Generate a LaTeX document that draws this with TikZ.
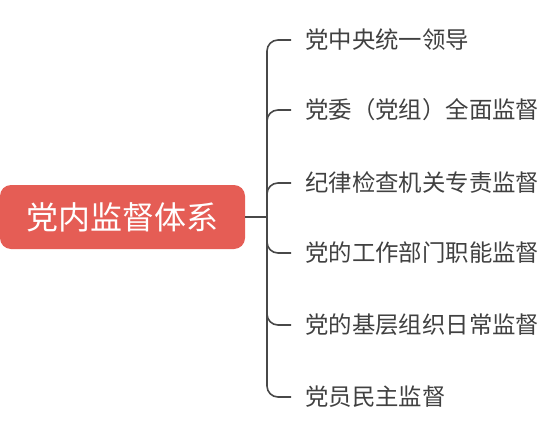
\documentclass[tikz,border=0pt]{standalone}
\usepackage{fontspec}
\setmainfont{Noto Sans CJK SC}
\usetikzlibrary{positioning}
\definecolor{rootred}{RGB}{229,93,85}
\definecolor{textgray}{RGB}{64,64,64}
\definecolor{linegray}{RGB}{72,72,72}

\begin{document}
\begin{tikzpicture}[
        x=1pt, y=-1pt,
        root/.style={fill=rootred, rounded corners=11pt, minimum width=245pt, minimum height=64pt, inner sep=0pt, text=white, font=\fontsize{32}{36}\selectfont},
        item/.style={anchor=west, inner sep=0pt, inner xsep=14pt, text=textgray, font=\fontsize{23.4}{26}\selectfont},
        branch/.style={draw=linegray, line width=1.6pt, rounded corners=11pt}
    ]
        \useasboundingbox (0,0) rectangle (553,433);
        \node[root] (r) at (122.5,217) {党内监督体系};
        \coordinate (trunk) at (267,217);

        \node[item] (i1) at (291,40) {党中央统一领导};
        \node[item] (i2) at (291,110) {党委（党组）全面监督};
        \node[item] (i3) at (291,183) {纪律检查机关专责监督};
        \node[item] (i4) at (291,253) {党的工作部门职能监督};
        \node[item] (i5) at (291,325) {党的基层组织日常监督};
        \node[item] (i6) at (291,397) {党员民主监督};

        \draw[branch] (r.east) -- (trunk);
        \foreach \i in {1,...,6}
            \draw[branch] (trunk) |- (i\i.west);
    \end{tikzpicture}
\end{document}
